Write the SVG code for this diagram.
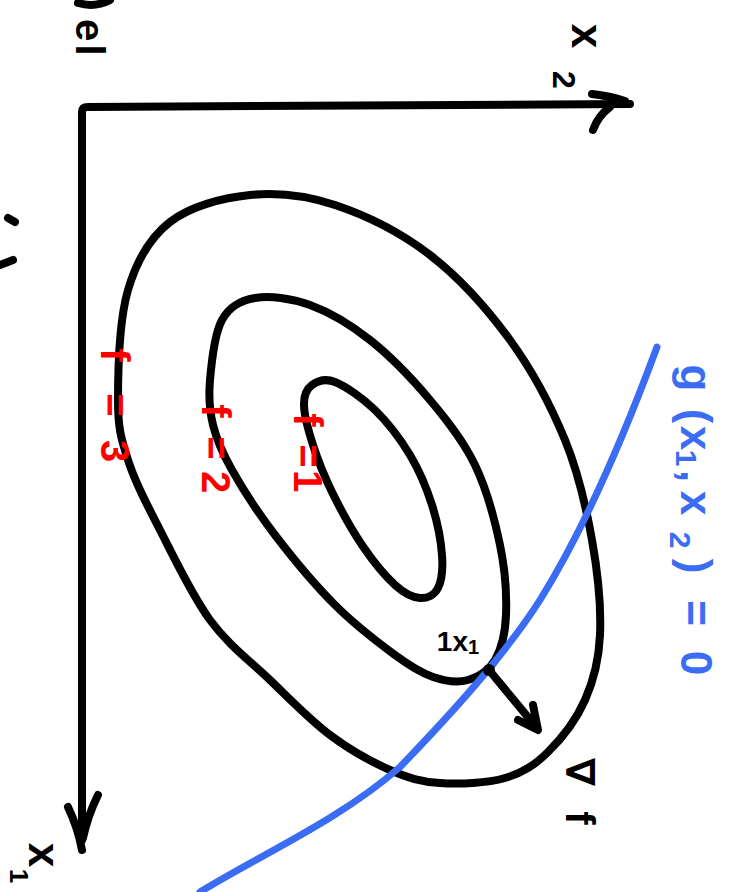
<svg xmlns="http://www.w3.org/2000/svg" width="742" height="892" viewBox="0 0 742 892">
<style>
.ink{fill:none;stroke:#000;stroke-width:8;stroke-linecap:round;stroke-linejoin:round}
.blue{fill:none;stroke:#3a6cf4;stroke-width:7;stroke-linecap:round;stroke-linejoin:round}
.t{font-family:"Liberation Sans","DejaVu Sans",sans-serif;font-weight:bold;text-anchor:middle;dominant-baseline:central}
.tk{fill:#000}
.tr{fill:#f00;font-size:40px}
.tb{fill:#3a6cf4;font-size:44px}
</style>
<rect width="742" height="892" fill="#fff"/>
<g id="fragments">
<path class="ink" d="M78,3 Q95,8 110,0"/>
<text class="t tk" transform="translate(90,0) rotate(90)" font-size="40"><tspan x="30">e</tspan><tspan x="50">l</tspan></text>
<path class="ink" d="M8,218 L15,222 M0,265 L13,260"/>
</g>
<g id="axes">
<path class="ink" d="M82,840 L82,112 Q82,107 88,107 L630,104"/>
<path class="ink" d="M592,94 Q610,96 625,101 M593,130 Q598,116 610,107"/>
<path class="ink" d="M68,807 Q78,828 82,850 M98,795 Q88,815 83,838"/>
<text class="t tk" transform="translate(588,0) rotate(90)" font-size="44"><tspan x="36">x</tspan><tspan x="80" dy="24" font-size="32">2</tspan></text>
<text class="t tk" transform="translate(45,0) rotate(90)" font-size="44"><tspan x="855">x</tspan><tspan x="876" dy="26" font-size="26">1</tspan></text>
</g>
<g id="contour-f3">
<path class="ink" d="M118,400 C118,371.7 119.3,319.7 128,290 S149.7,237.8 170,222 S222.5,197.8 250,195 S305,195 335,205 S400.8,232.5 430,255 S487.5,309.2 510,340 S551.3,406.7 565,440 S586.2,507.5 592,540 S601.2,608.3 600,635 S593.7,680.5 585,700 S561.3,739 548,752 S523,772.8 505,778 S459.2,784.3 440,783 S408.3,778 390,770 S350,750 330,735 S290,699.2 270,680 S228.3,645 210,620 S173.7,556.7 160,530 S135,481.7 128,460 S118,428.3 118,400 Z"/>
<text class="t tr" transform="translate(115,0) rotate(90)"><tspan x="355">f</tspan><tspan x="405">=</tspan><tspan x="451">3</tspan></text>
</g>
<g id="contour-f2">
<path class="ink" d="M210,380 C211.5,362.5 214.5,333.7 222,320 S240.3,300.5 255,298 S290.8,298 310,305 S350,324.2 370,340 S412.5,379.2 430,400 S463.3,440.8 475,465 S494.8,520 500,545 S506.8,595.8 506,615 S501.3,649.2 495,660 S478.3,677.2 468,680 S445.2,681.2 433,677 S411.3,667 395,655 S355,625 335,605 S292.2,557.5 275,535 S242.3,488.3 232,470 S216.7,440 213,425 S208.5,397.5 210,380 Z"/>
<text class="t tr" transform="translate(216,0) rotate(90)"><tspan x="411">f</tspan><tspan x="448">=</tspan><tspan x="482">2</tspan></text>
</g>
<g id="contour-f1">
<path class="ink" d="M304,405 C303.8,395 306.8,388.8 312,385 S324.5,377.8 335,382 S362.5,397.8 375,410 S400.5,439.2 410,455 S426.7,488.3 432,505 S441,541.2 442,555 S441.7,580.8 438,588 S427.2,598.5 420,598 S404.7,593.8 395,585 S372.5,560.5 362,545 S340.2,508.7 332,492 S317.7,459.5 313,445 S304.2,415 304,405 Z"/>
<text class="t tr" transform="translate(308,0) rotate(90)"><tspan x="420">f</tspan><tspan x="456">=</tspan><tspan x="481">1</tspan></text>
</g>
<g id="constraint">
<path class="blue" d="M657,347 C630,420 590,520 540,600 C505,655 450,715 400,767 C340,820 260,855 200,892"/>
<text class="t tb" transform="translate(697,0) rotate(90)"><tspan x="378">g</tspan><tspan x="416">(</tspan><tspan x="438">x</tspan><tspan x="458" dy="10" font-size="30">1</tspan><tspan x="476" dy="-10">,</tspan><tspan x="503">x</tspan><tspan x="540" dy="16" font-size="30">2</tspan><tspan x="566" dy="-16">)</tspan><tspan x="613">=</tspan><tspan x="663">0</tspan></text>
</g>
<g id="optimum">
<circle cx="489" cy="670" r="6" fill="#000"/>
<text class="t tk" x="458" y="641" font-size="28">1x<tspan dy="6" font-size="20">1</tspan></text>
</g>
<g id="connectors">
<path class="ink" d="M489,670 L537,728 M518,720 L538,730 L533,705"/>
</g>
<g id="gradient-label">
<text class="t tk" transform="translate(580,0) rotate(90)" font-size="40"><tspan x="772">∇</tspan><tspan x="818">f</tspan></text>
</g>
</svg>
